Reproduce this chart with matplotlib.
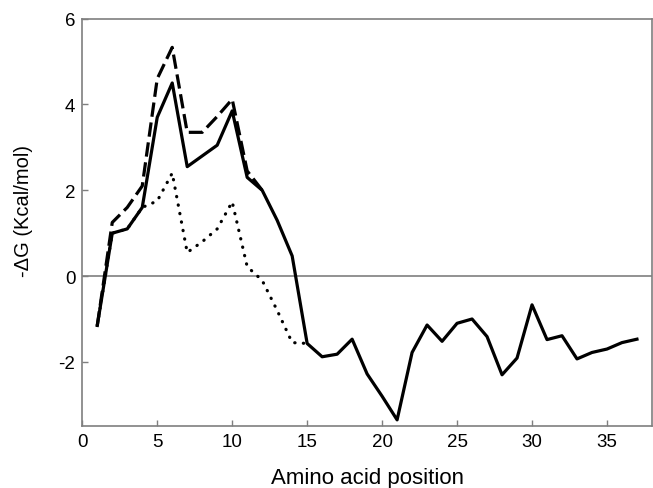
import matplotlib
matplotlib.use("Agg")
import matplotlib.pyplot as plt
import numpy as np

plt.rcParams['font.family'] = ['Liberation Sans', 'DejaVu Sans']
plt.rcParams['axes.unicode_minus'] = False

# amino acid positions
pos = np.arange(1, 38)
# solid line (full peptide)
dg_solid = [-1.15, 1.0, 1.1, 1.6, 3.7, 4.5, 2.55, 2.8, 3.05, 3.85, 2.3, 2.0, 1.3, 0.47,
            -1.57, -1.88, -1.82, -1.47, -2.28, -2.8, -3.35, -1.78, -1.14, -1.52, -1.1,
            -1.0, -1.41, -2.3, -1.91, -0.67, -1.48, -1.39, -1.93, -1.78, -1.7, -1.55, -1.47]
# dashed line
pos_dash = np.arange(1, 13)
dg_dash = [-1.15, 1.25, 1.6, 2.1, 4.6, 5.33, 3.35, 3.35, 3.72, 4.12, 2.45, 2.0]
# dotted line
pos_dot = np.arange(1, 16)
dg_dot = [-1.15, 1.0, 1.1, 1.6, 1.75, 2.4, 0.55, 0.8, 1.1, 1.73, 0.22, -0.1, -0.8, -1.55, -1.57]

fig = plt.figure(figsize=(6.53, 4.89), dpi=100)
ax = fig.add_axes([0.126, 0.1262, 0.8724, 0.8337])

grey = '#7f7f7f'
ax.axhline(0, color=grey, lw=1.2, zorder=1)

ax.plot(pos_dot, dg_dot, color='black', lw=2.3, linestyle=(0, (0.1, 2.6)),
        dash_capstyle='round', zorder=2)
ax.plot(pos_dash, dg_dash, color='black', lw=2.3, linestyle=(0, (4.5, 1.8)), zorder=3)
ax.plot(pos, dg_solid, color='black', lw=2.3, zorder=4)

ax.set_xlim(0, 38)
ax.set_ylim(-3.5, 6)
ax.set_xticks([0, 5, 10, 15, 20, 25, 30, 35])
ax.set_yticks([-2, 0, 2, 4, 6])

for s in ax.spines.values():
    s.set_color(grey)
    s.set_linewidth(1.2)
ax.tick_params(direction='in', length=4.5, width=1.0, color=grey,
               labelsize=13.5, pad=5)

ax.set_xlabel('Amino acid position', fontsize=16)
ax.set_ylabel('-ΔG (Kcal/mol)', fontsize=14.5)
ax.xaxis.set_label_coords(0.5, -0.1)
ax.yaxis.set_label_coords(-0.087, 0.53)

fig.savefig('out.png', dpi=100)
